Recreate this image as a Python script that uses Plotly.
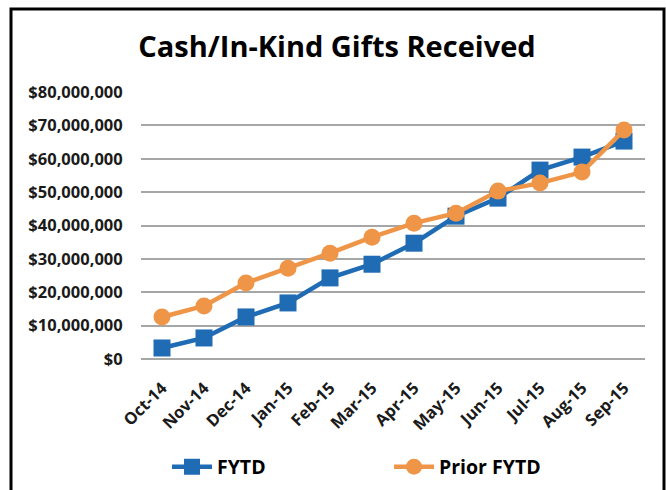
import plotly.graph_objects as go

months = ["Oct-14", "Nov-14", "Dec-14", "Jan-15", "Feb-15", "Mar-15",
          "Apr-15", "May-15", "Jun-15", "Jul-15", "Aug-15", "Sep-15"]
fytd = [3.3e6, 6.3e6, 12.6e6, 16.8e6, 24.3e6, 28.4e6,
        34.7e6, 42.8e6, 48.2e6, 56.6e6, 60.5e6, 65.3e6]
prior_fytd = [12.6e6, 15.9e6, 22.8e6, 27.2e6, 31.7e6, 36.5e6,
              40.7e6, 43.7e6, 50.3e6, 52.7e6, 56.0e6, 68.6e6]

BLUE = "#1F6BB4"
ORANGE = "#EF9548"
FONT = "Open Sans"

fig = go.Figure()
fig.add_trace(go.Scatter(
    x=months, y=fytd, name="FYTD", mode="lines+markers",
    line=dict(color=BLUE, width=4.5),
    marker=dict(symbol="square", size=17, color=BLUE),
))
fig.add_trace(go.Scatter(
    x=months, y=prior_fytd, name="Prior FYTD", mode="lines+markers",
    line=dict(color=ORANGE, width=4.5),
    marker=dict(symbol="circle", size=17, color=ORANGE),
))

W, H = 666, 490
L, R, T, B = 141, 21, 92, 131
pw, ph = W - L - R, H - T - B

def px_x(x):
    return (x - L) / pw

def px_y(y):
    return (H - B - y) / ph

fig.update_layout(
    width=W, height=H,
    margin=dict(l=L, r=R, t=T, b=B, autoexpand=False),
    paper_bgcolor="white", plot_bgcolor="white",
    font=dict(family=FONT, color="#1a1a1a"),
    title=dict(text="<b>Cash/In-Kind Gifts Received</b>",
               font=dict(family=FONT, size=29, color="#000000"),
               x=337 / W, xanchor="center", xref="container",
               y=1 - 47 / H, yanchor="middle", yref="container"),
    xaxis=dict(
        type="category", tickangle=-45,
        tickfont=dict(family=FONT, size=16.5, color="#1a1a1a", weight="bold"),
        showgrid=False, showline=False, zeroline=False,
        ticks="outside", ticklen=12, tickcolor="rgba(0,0,0,0)",
        range=[-0.5, 11.5],
    ),
    yaxis=dict(
        range=[0, 80e6], dtick=10e6, tickformat="$,.0f",
        tickfont=dict(family=FONT, size=16.5, color="#1a1a1a", weight="bold"),
        showgrid=True, gridcolor="#A6A6A6", gridwidth=2,
        zeroline=True, zerolinecolor="#A6A6A6", zerolinewidth=2,
        showline=False,
        ticks="outside", ticklen=14, tickcolor="rgba(0,0,0,0)",
    ),
    legend=dict(
        orientation="h", x=px_x(167), xanchor="left",
        y=px_y(467), yanchor="middle",
        font=dict(family=FONT, size=19.5, color="#000000", weight="bold"),
        entrywidth=167, entrywidthmode="pixels", itemwidth=40,
        bgcolor="rgba(0,0,0,0)",
    ),
    showlegend=True,
)

fig.add_shape(type="rect", xref="paper", yref="paper",
              x0=px_x(11), x1=px_x(664), y0=px_y(520), y1=px_y(9),
              line=dict(color="black", width=3), fillcolor="rgba(0,0,0,0)",
              layer="below")

fig.write_html(
    "out.html",
    config={"displayModeBar": False},
    post_script="document.body.style.margin='0px';document.body.style.overflow='hidden';",
)
